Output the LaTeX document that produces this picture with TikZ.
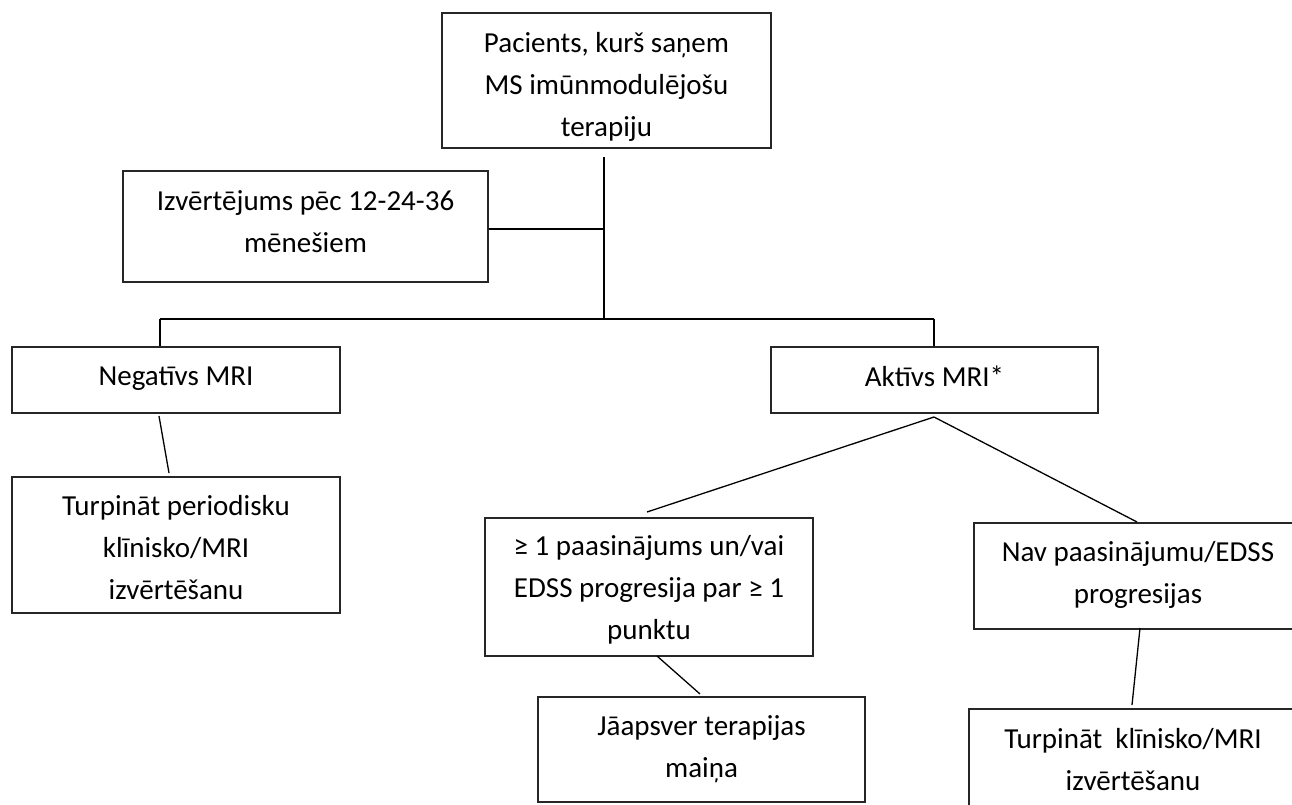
\documentclass[tikz,border=0pt]{standalone}
\usepackage{fontspec}
\setmainfont{Carlito}
\begin{document}
\begin{tikzpicture}[x=1pt,y=-1pt,
  box/.style={draw=black!85, line width=1.3pt, inner sep=0pt},
  txt/.style={align=center, inner sep=0pt, font=\fontsize{29}{42}\selectfont},
  conn/.style={line width=1.3pt},
  trunk/.style={line width=2.2pt}]
\useasboundingbox[fill=white] (0,0) rectangle (1292,805);
\clip (0,0) rectangle (1292,805);
% boxes
\node[box, minimum width=329, minimum height=135] (top) at (606.5,80.5) {};
\node[box, minimum width=365, minimum height=111] (izv) at (305.5,226.5) {};
\node[box, minimum width=328, minimum height=66] (neg) at (176,380) {};
\node[box, minimum width=328, minimum height=136] (turpA) at (176,545) {};
\node[box, minimum width=327, minimum height=66] (akt) at (934.5,380) {};
\node[box, minimum width=328, minimum height=138] (ge) at (649,587) {};
\node[box, minimum width=327, minimum height=105] (jaap) at (701.5,749.5) {};
\node[box, minimum width=328, minimum height=106] (nav) at (1138,576) {};
\node[box, minimum width=328, minimum height=102] (turpB) at (1133,760) {};
% texts
\node[txt] (topT) at (606.5,86.5) {Pacients, kurš saņem\\MS imūnmodulējošu\\terapiju};
\node[txt] (izvT) at (305.5,221.5) {Izvērtējums pēc 12-24-36\\mēnešiem};
\node[txt] (negT) at (176,379) {Negatīvs MRI};
\node[txt] (turpAT) at (176,547.5) {Turpināt periodisku\\klīnisko/MRI\\izvērtēšanu};
\node[txt] (aktT) at (934.5,376) {Aktīvs MRI*};
\node[txt] (geT) at (649,589.5) {≥ 1 paasinājums un/vai\\EDSS progresija par ≥ 1\\punktu};
\node[txt] (jaapT) at (701.5,749.5) {Jāapsver terapijas\\maiņa};
\node[txt] (navT) at (1138,575) {Nav paasinājumu/EDSS\\progresijas};
\node[txt] (turpBT) at (1133,759.5) {Turpināt~ klīnisko/MRI\\izvērtēšanu};
% connector points
\coordinate (t1) at (604,157);
\coordinate (t2) at (604,319);
\coordinate (tm) at (604,229);
\coordinate (hl) at (160,319);
\coordinate (hr) at (934,319);
\coordinate (n1) at (159,416);
\coordinate (n2) at (169,473);
\coordinate (a0) at (934,417);
\coordinate (a1) at (647,512);
\coordinate (a2) at (1137,522);
\coordinate (g1) at (657,656);
\coordinate (g2) at (700,694);
\coordinate (v1) at (1140,628);
\coordinate (v2) at (1132,705);
% connectors
\draw[trunk] (t1) -- (t2);
\draw[trunk] (izv.east |- tm) -- (tm);
\draw[trunk] (hl) -- (hr);
\draw[trunk] (hl) -- (hl |- neg.north);
\draw[trunk] (hr) -- (hr |- akt.north);
\draw[conn] (n1) -- (n2);
\draw[conn] (a0) -- (a1);
\draw[conn] (a0) -- (a2);
\draw[conn] (g1) -- (g2);
\draw[conn] (v1) -- (v2);
\end{tikzpicture}
\end{document}
